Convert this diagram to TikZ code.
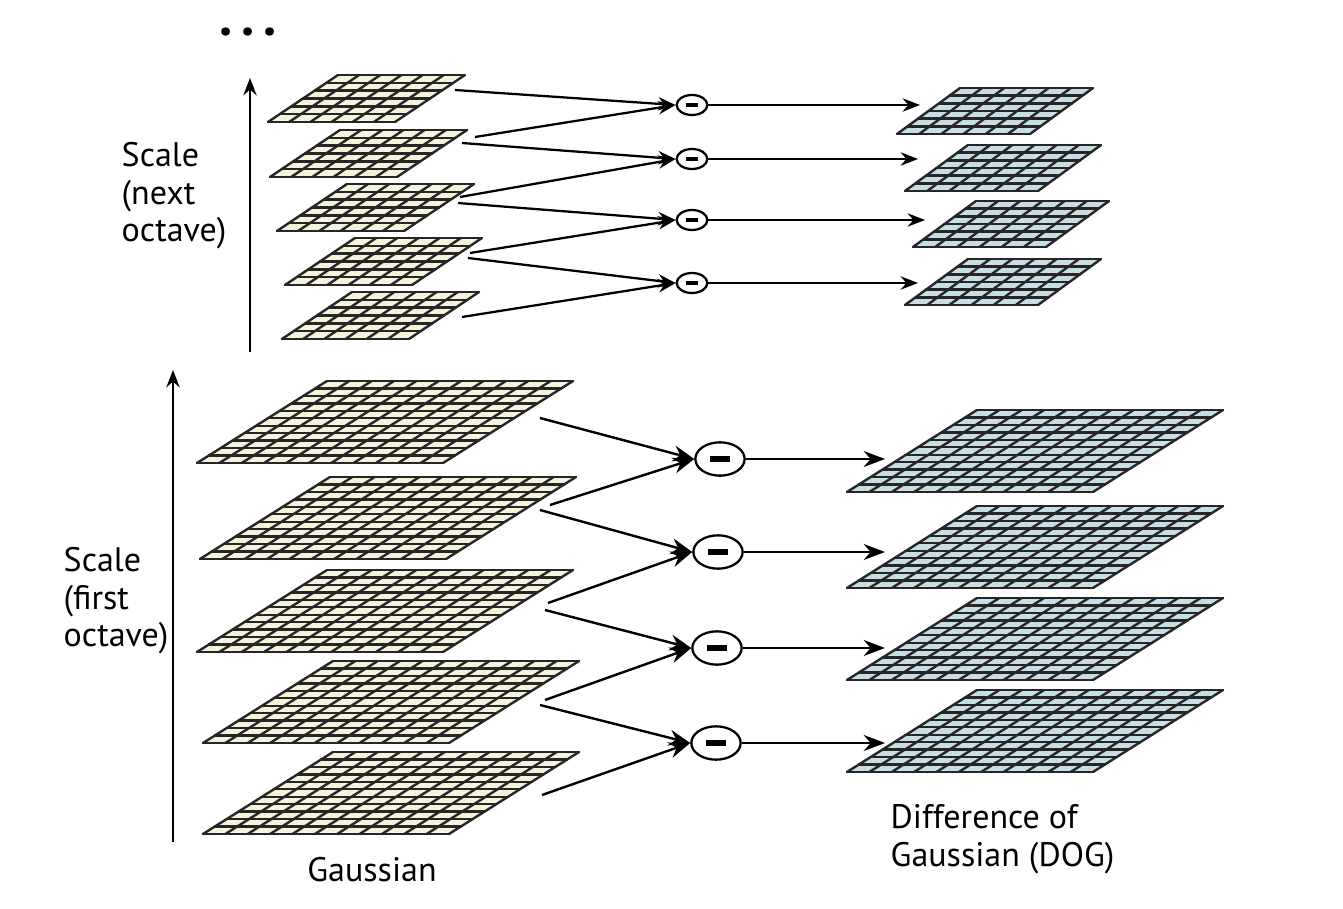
\documentclass[tikz,border=0pt]{standalone}
\usepackage{fontspec}
\setmainfont{PT Sans}
\usetikzlibrary{shapes.geometric,arrows.meta}
\definecolor{gy}{HTML}{F5F3DC}
\definecolor{db}{HTML}{C7DEE7}
\newcommand\mygrid[8]{%
 \fill[#8] (#1,#2) -- ++(#3,0) -- ++(#4,-#5) -- ++(-#3,0) -- cycle;
 \foreach \i in {0,...,#6}{\draw[gl] ({#1+\i*#3/#6},#2) -- ({#1+#4+\i*#3/#6},{#2-#5});}
 \foreach \j in {0,...,#7}{\draw[gl] ({#1+\j*#4/#7},{#2-\j*#5/#7}) -- ({#1+#3+\j*#4/#7},{#2-\j*#5/#7});}
}
\begin{document}
\begin{tikzpicture}[x=0.75pt,y=-0.75pt,
 gl/.style={line width=1.8pt,black!85,line cap=round},
 ar/.style={line width=1.8pt,-{Stealth[length=16pt,width=12pt]}},
 sar/.style={line width=1.7pt,-{Stealth[length=13pt,width=10pt]}},
 mb/.style={ellipse,draw,line width=1.7pt,fill=white,inner sep=0pt},
 lab/.style={font=\fontsize{25.5pt}{28pt}\selectfont,align=left}]
\useasboundingbox (0,0) rectangle (1343,909);
% lower Gaussian
\foreach \yy/\xx in {463/197,559/200,652/197,743/203,834/203}{\mygrid{\xx}{\yy}{246}{130}{82}{11}{11}{gy}}
% lower DOG
\foreach \yy in {492,588,680,772}{\mygrid{847}{\yy}{246}{130}{82}{11}{11}{db}}
% upper Gaussian
\foreach \yy/\xx in {122/268,177/270,231/277,285/285,339/282}{\mygrid{\xx}{\yy}{127}{70}{47}{6}{6}{gy}}
% upper DOG
\foreach \yy/\xx in {134/897,191/905,247/913,305/905}{\mygrid{\xx}{\yy}{133}{63}{46}{6}{6}{db}}
% minus nodes
\foreach \n/\x/\y in {1/692/105,2/692/159,3/692/220,4/692/283}{
 \node[mb,minimum width=23pt,minimum height=15pt] (s\n) at (\x,\y) {\rule{9pt}{3pt}};}
\foreach \n/\x/\y in {1/720/459,2/718/552,3/717/648,4/716/743}{
 \node[mb,minimum width=37pt,minimum height=25pt] (b\n) at (\x,\y) {\rule{15pt}{4.5pt}};}
% upper connectors
\coordinate (u1) at (455,90); \coordinate (u2a) at (475,137); \coordinate (u2b) at (462,143);
\coordinate (u3a) at (460,197); \coordinate (u3b) at (458,203); \coordinate (u4a) at (470,253);
\coordinate (u4b) at (468,258); \coordinate (u5) at (462,317);
\draw[sar] (u1) -- (s1.west); \draw[sar] (u2a) -- (s1.west);
\draw[sar] (u2b) -- (s2.west); \draw[sar] (u3a) -- (s2.west);
\draw[sar] (u3b) -- (s3.west); \draw[sar] (u4a) -- (s3.west);
\draw[sar] (u4b) -- (s4.west); \draw[sar] (u5) -- (s4.west);
\coordinate (o1) at (920,105); \coordinate (o2) at (918,159); \coordinate (o3) at (925,220); \coordinate (o4) at (918,283);
\foreach \n in {1,...,4}{\draw[sar] (s\n.east) -- (o\n);}
% lower connectors
\coordinate (l1) at (540,418); \coordinate (l2a) at (550,505); \coordinate (l2b) at (540,510);
\coordinate (l3a) at (548,603); \coordinate (l3b) at (545,610); \coordinate (l4a) at (545,700);
\coordinate (l4b) at (540,705); \coordinate (l5) at (542,795);
\draw[ar] (l1) -- (b1.west); \draw[ar] (l2a) -- (b1.west);
\draw[ar] (l2b) -- (b2.west); \draw[ar] (l3a) -- (b2.west);
\draw[ar] (l3b) -- (b3.west); \draw[ar] (l4a) -- (b3.west);
\draw[ar] (l4b) -- (b4.west); \draw[ar] (l5) -- (b4.west);
\coordinate (p1) at (885,459); \coordinate (p2) at (885,552); \coordinate (p3) at (885,648); \coordinate (p4) at (885,743);
\foreach \n in {1,...,4}{\draw[ar] (b\n.east) -- (p\n);}
% scale arrows
\coordinate (va0) at (250,352); \coordinate (va1) at (250,78);
\coordinate (vb0) at (173,842); \coordinate (vb1) at (173,370);
\draw[sar] (va0) -- (va1); \draw[sar] (vb0) -- (vb1);
% labels
\node[font=\fontsize{40pt}{40pt}\selectfont\bfseries] (dots) at (248,32) {.\,.\,.};
\node[lab,anchor=north west] (t1) at (117,138) {Scale\\(next\\octave)};
\node[lab,anchor=north west] (t2) at (59,543) {Scale\\(first\\octave)};
\node[lab] (t3) at (372,870) {Gaussian};
\node[lab,anchor=north west] (t4) at (886,800) {Difference of\\Gaussian (DOG)};
\end{tikzpicture}
\end{document}
